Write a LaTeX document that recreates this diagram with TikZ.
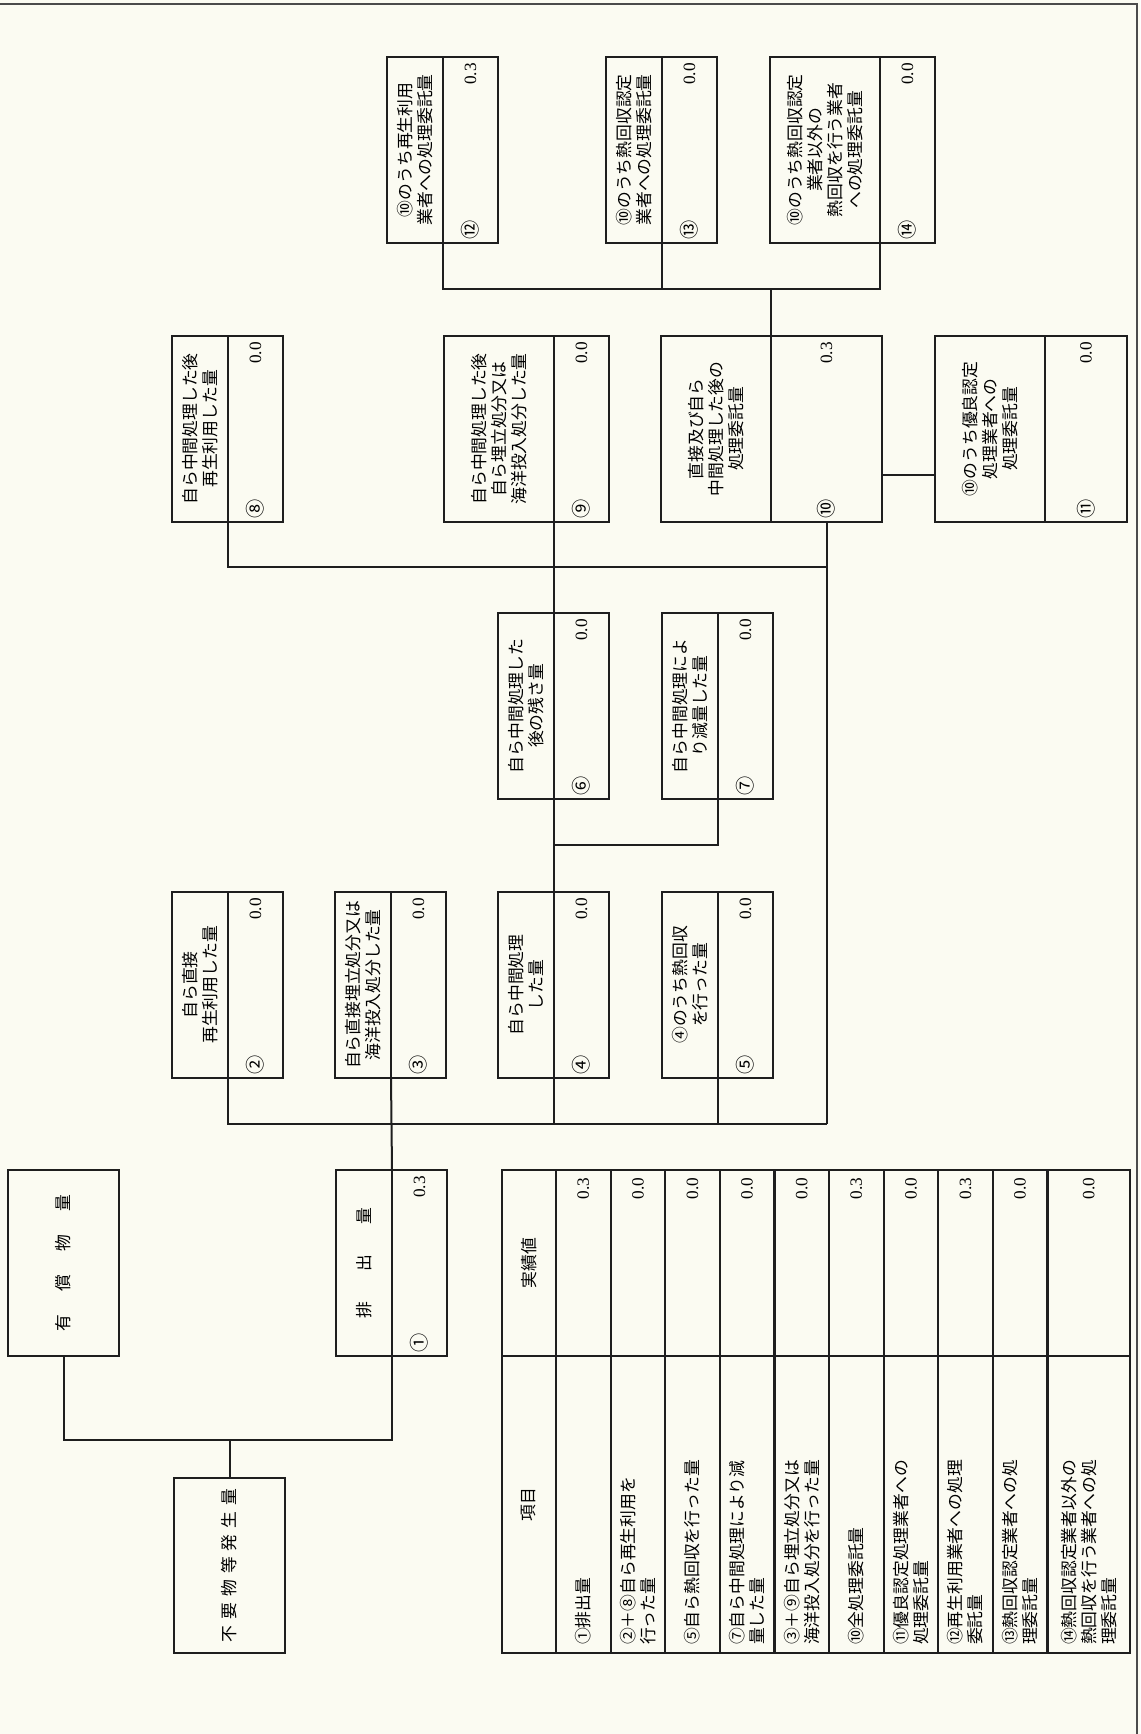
\documentclass[tikz,border=0pt]{standalone}
\usepackage{fontspec}
\newfontfamily\jpfont{Noto Sans CJK JP}
\newfontfamily\numfont{Liberation Serif}
\usepackage{xcolor}
\definecolor{ink}{HTML}{1E1E1E}
\definecolor{paper}{HTML}{FBFBF2}
\usepackage{tikz}
\usetikzlibrary{positioning,calc}
\newcommand{\pxl}{0.5pt}
% two-part box: label on top, number and value below
\newcommand{\flowbox}[7]{%
  \node[valpart, minimum height=#4*\pxl, anchor=south west] (#1v) at #2 {};
  \node[textpart, minimum height=#3*\pxl, above=0pt of #1v] (#1t) {#5};
  \node[numlbl, anchor=west] (#1n) at (#1v.west) {#6};
  \node[vallbl, anchor=east] (#1x) at (#1v.east) {#7};
}

\begin{document}
\begin{tikzpicture}[
  x=0.5pt, y=0.5pt,
  font={\jpfont\fontsize{8.4}{10}\selectfont},
  part/.style={draw=ink, line width=1.1pt, minimum width=186*\pxl, inner sep=0pt, outer sep=0pt},
  textpart/.style={part, align=center},
  valpart/.style={part},
  numlbl/.style={inner sep=1.5pt, font={\jpfont\fontsize{9.6}{10}\selectfont}},
  vallbl/.style={inner sep=3pt, font={\numfont\fontsize{8.6}{9}\selectfont}},
  itemcell/.style={draw=ink, line width=1.1pt, outer sep=0pt, inner xsep=4pt, inner ysep=0pt,
    text width=140.5pt, align=left},
  headval/.style={itemcell, text width=85pt, align=center},
  valcell/.style={itemcell, text width=85pt, align=right, font={\numfont\fontsize{8.6}{9}\selectfont}},
  conn/.style={draw=ink, line width=1pt}
]
\fill[paper] (0,0) rectangle (1140,1734);
\useasboundingbox (0,0) rectangle (1140,1734);
\begin{scope}[transform canvas={shift={(570pt,0pt)}, rotate=90}]
% frame
\draw[ink!80, line width=0.9pt] (1730,1140) -- (1730,3) -- (0,3);

% source boxes
\node[part, minimum width=175*\pxl, minimum height=111*\pxl, anchor=south west] (gen) at (81,855)
  {不\hspace{3pt}要\hspace{3pt}物\hspace{3pt}等\hspace{3pt}発\hspace{3pt}生\hspace{3pt}量};
\node[part, minimum height=111*\pxl, anchor=south west] (valuable) at (378,1021)
  {有\hspace{11.5pt}償\hspace{11.5pt}物\hspace{11.5pt}量};
\flowbox{dis}{(378,693)}{56}{55}{排\hspace{15pt}出\hspace{15pt}量}{①}{0.3}

% flow boxes
\flowbox{dirrec}{(656,857)}{56}{55}{自ら直接\\再生利用した量}{②}{0.0}
\flowbox{dirland}{(656,694)}{56}{55}{自ら直接埋立処分又は\\海洋投入処分した量}{③}{0.0}
\flowbox{mid}{(656,531)}{56}{55}{自ら中間処理\\した量}{④}{0.0}
\flowbox{heat}{(656,367)}{56}{55}{④のうち熱回収\\を行った量}{⑤}{0.0}
\flowbox{resid}{(935,531)}{56}{55}{自ら中間処理した\\後の残さ量}{⑥}{0.0}
\flowbox{reduc}{(935,367)}{56}{55}{自ら中間処理によ\\り減量した量}{⑦}{0.0}
\flowbox{midrec}{(1212,857)}{56}{55}{自ら中間処理した後\\再生利用した量}{⑧}{0.0}
\flowbox{midland}{(1212,531)}{110}{55}{自ら中間処理した後\\自ら埋立処分又は\\海洋投入処分した量}{⑨}{0.0}
\flowbox{cons}{(1212,258)}{110}{111}{直接及び自ら\\中間処理した後の\\処理委託量}{⑩}{0.3}
\flowbox{good}{(1212,13)}{110}{82}{⑩のうち優良認定\\処理業者への\\処理委託量}{⑪}{0.0}
\flowbox{recyc}{(1491,642)}{56}{55}{⑩のうち再生利用\\業者への処理委託量}{⑫}{0.3}
\flowbox{hcert}{(1491,423)}{56}{55}{⑩のうち熱回収認定\\業者への処理委託量}{⑬}{0.0}
\flowbox{hother}{(1491,205)}{110}{55}{⑩のうち熱回収認定\\業者以外の\\熱回収を行う業者\\への処理委託量}{⑭}{0.0}

% connectors
\coordinate (bus0) at (294,0);
\draw[conn] (gen.east) -- (gen.east -| bus0);
\draw[conn] (valuable.west) -| (bus0 |- gen.east) |- (dist.south west);
\coordinate (bus1) at ($(dist.south east)!0.5!(dirlandt.south west)$);
\draw[conn] (dist.south east) -- (dirlandt.south west);
\draw[conn] (dirrect.south west) -- (dirrect.south west -| bus1) -- (consv.west -| bus1);
\draw[conn] (midt.south west) -- (midt.south west -| bus1);
\draw[conn] (heatt.south west) -- (heatt.south west -| bus1);
\draw[conn] (consv.west) -- (consv.west -| bus1);
\coordinate (j47) at ($(midt.south east)!0.5!(residt.south west)$);
\draw[conn] (midt.south east) -- (residt.south west);
\draw[conn] (j47) |- (reduct.south west);
\coordinate (bus2) at ($(residt.south east)!0.5!(midlandt.south west)$);
\draw[conn] (residt.south east) -- (midlandt.south west);
\draw[conn] (midrect.south west) -- (midrect.south west -| bus2) -- (consv.west -| bus2);
\draw[conn] ($(consv.south west)+(47,0)$) -- ($(goodt.north west)+(47,0)$);
\coordinate (bus3) at ($(const.south east)!0.5!(hcertt.south west)$);
\draw[conn] (const.south east) -- (const.south east -| bus3);
\draw[conn] (recyct.south west) -- (recyct.south west -| bus3) -- (hothert.south west -| bus3)
  -- (hothert.south west);
\draw[conn] (hcertt.south west) -- (hcertt.south west -| bus3);

% summary table
\node[itemcell, align=center, minimum height=54*\pxl, anchor=north west] (hitem) at (81,638) {項目};
\node[headval, minimum height=54*\pxl, anchor=north west] (hval) at (378,638) {実績値};
\foreach \i/\h/\txt/\v in {
  1/54.6/{①排出量}/0.3,
  2/54.6/{②＋⑧自ら再生利用を\\行った量}/0.0,
  3/54.6/{⑤自ら熱回収を行った量}/0.0,
  4/54.6/{⑦自ら中間処理により減\\量した量}/0.0,
  5/54.6/{③＋⑨自ら埋立処分又は\\海洋投入処分を行った量}/0.0,
  6/54.6/{⑩全処理委託量}/0.3,
  7/54.6/{⑪優良認定処理業者への\\処理委託量}/0.0,
  8/54.6/{⑫再生利用業者への処理\\委託量}/0.3,
  9/54.6/{⑬熱回収認定業者への処\\理委託量}/0.0,
  10/82.6/{⑭熱回収認定業者以外の\\熱回収を行う業者への処\\理委託量}/0.0}{
  \node[itemcell, minimum height=\h*\pxl, anchor=north west] (item\i) at (81,{584-54.6*(\i-1)}) {\txt};
  \node[valcell, minimum height=\h*\pxl, anchor=north west] (val\i) at (378,{584-54.6*(\i-1)}) {\v};
}
\end{scope}
\end{tikzpicture}
\end{document}
